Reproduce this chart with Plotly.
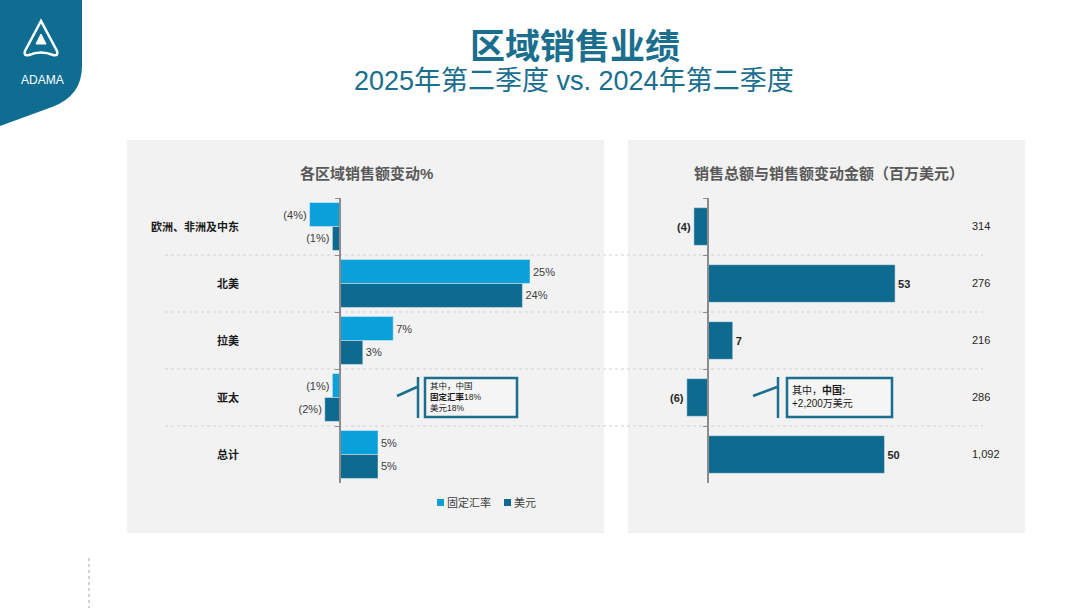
import plotly.graph_objects as go

# ---------------- data ----------------
categories = ["欧洲、非洲及中东", "北美", "拉美", "亚太", "总计"]
pct_constant_fx = [-4, 25, 7, -1, 5]      # 固定汇率
pct_usd = [-1, 24, 3, -2, 5]              # 美元
change_musd = [-4, 53, 7, -6, 50]         # 销售额变动金额（百万美元）
total_musd = [314, 276, 216, 286, 1092]   # 销售总额（百万美元）

series_names = ["固定汇率", "美元"]
title_main = "区域销售业绩"
title_sub = "2025年第二季度 vs. 2024年第二季度"
left_title = "各区域销售额变动%"
right_title = "销售总额与销售额变动金额（百万美元）"

# ---------------- styling ----------------
W, H = 1080, 608
LIGHT = "#0AA0DA"
DARK = "#0E6A8E"
TEAL = "#1A6E8E"
FONT = "Liberation Sans, Noto Sans CJK SC, sans-serif"
series_colors = [LIGHT, DARK]


def px(x):
    return x / W


def py(y):
    return 1 - y / H


def pct_text(v):
    return f"({abs(v)}%)" if v < 0 else f"{v}%"


def num_text(v):
    return f"({abs(v)})" if v < 0 else f"{v}"


fig = go.Figure()

# left chart: two bars per category
for vals, name, color, off in zip([pct_constant_fx, pct_usd], series_names,
                                  series_colors, [-0.42, 0.0]):
    fig.add_trace(go.Bar(
        y=categories, x=vals, orientation="h", name=name, showlegend=False,
        marker=dict(color=color), width=0.42, offset=off,
        text=[pct_text(v) for v in vals], textposition="outside",
        textfont=dict(size=11, color="#404040", family=FONT), constraintext="none",
        cliponaxis=False, xaxis="x", yaxis="y", hoverinfo="skip",
    ))

# right chart
fig.add_trace(go.Bar(
    y=categories, x=change_musd, orientation="h", showlegend=False,
    marker=dict(color=DARK), width=0.66, offset=-0.33,
    text=[num_text(v) for v in change_musd], textposition="outside",
    textfont=dict(size=11, color="#262626", family=FONT, weight="bold"),
    constraintext="none", cliponaxis=False, xaxis="x2", yaxis="y2",
    hoverinfo="skip",
))

ydom = [py(483), py(198)]
yaxis_common = dict(
    type="category", categoryorder="array", categoryarray=categories,
    autorange="reversed", domain=ydom, showticklabels=False,
    showline=True, linecolor="#8C8C8C", linewidth=1.5,
    ticks="outside", tickson="boundaries", ticklen=4, tickcolor="#8C8C8C",
    showgrid=False, zeroline=False, anchor="free",
)

# x axes: zero placed at x=340 px (left), x=708 px (right)
l_dom = (250, 600)
l_scale = 7.6
r_dom = (640, 990)
r_scale = 3.53

fig.update_layout(
    width=W, height=H, margin=dict(l=0, r=0, t=0, b=0),
    paper_bgcolor="white", plot_bgcolor="rgba(0,0,0,0)",
    font=dict(family=FONT, color="#404040"),
    barmode="overlay", showlegend=False,
    xaxis=dict(domain=[px(l_dom[0]), px(l_dom[1])],
               range=[(l_dom[0] - 340) / l_scale, (l_dom[1] - 340) / l_scale],
               visible=False, anchor="y"),
    xaxis2=dict(domain=[px(r_dom[0]), px(r_dom[1])],
                range=[(r_dom[0] - 708) / r_scale, (r_dom[1] - 708) / r_scale],
                visible=False, anchor="y2"),
    yaxis=dict(**yaxis_common, position=px(340)),
    yaxis2=dict(**yaxis_common, position=px(708)),
    hovermode=False,
)

shapes = []
# panel backgrounds
shapes.append(dict(type="rect", xref="paper", yref="paper", x0=px(127), x1=px(604),
                   y0=py(533), y1=py(140), fillcolor="#F2F2F2", line=dict(width=0),
                   layer="below"))
shapes.append(dict(type="rect", xref="paper", yref="paper", x0=px(628), x1=px(1025),
                   y0=py(533), y1=py(140), fillcolor="#F2F2F2", line=dict(width=0),
                   layer="below"))
# category separators
for i in range(len(categories) - 1):
    shapes.append(dict(type="line", xref="paper", yref="y", x0=px(165), x1=px(983),
                       y0=i + 0.5, y1=i + 0.5,
                       line=dict(color="#D0D0D0", width=1, dash="dot"), layer="below"))

# logo
logo_path = (f"M {px(0)} {py(0)} L {px(82)} {py(0)} L {px(82)} {py(66)} "
             f"Q {px(82)} {py(96)} {px(52)} {py(107)} L {px(0)} {py(126)} Z")
shapes.append(dict(type="path", xref="paper", yref="paper", path=logo_path,
                   fillcolor="#0F6D92", line=dict(width=0)))
a_outer = (f"M {px(41)} {py(21)} L {px(25)} {py(51)} Q {px(23)} {py(56)} {px(29)} {py(55)} "
           f"Q {px(41)} {py(50)} {px(53)} {py(55)} Q {px(59)} {py(56)} {px(57)} {py(51)} Z")
shapes.append(dict(type="path", xref="paper", yref="paper", path=a_outer,
                   fillcolor="rgba(0,0,0,0)", line=dict(color="white", width=2.5)))
a_inner = f"M {px(41)} {py(34)} L {px(36)} {py(44)} L {px(46)} {py(44)} Z"
shapes.append(dict(type="path", xref="paper", yref="paper", path=a_inner,
                   fillcolor="white", line=dict(color="white", width=1)))


# callouts
def callout(x_diag0, x_vert, box_x0, box_x1):
    out = []
    out.append(dict(type="line", xref="paper", yref="paper", x0=px(x_diag0), y0=py(396),
                    x1=px(x_vert - 1), y1=py(387), line=dict(color=TEAL, width=2.5)))
    out.append(dict(type="line", xref="paper", yref="paper", x0=px(x_vert), y0=py(377),
                    x1=px(x_vert), y1=py(418), line=dict(color=TEAL, width=2.5)))
    out.append(dict(type="rect", xref="paper", yref="paper", x0=px(box_x0), x1=px(box_x1),
                    y0=py(417), y1=py(378), line=dict(color=TEAL, width=2.5),
                    fillcolor="rgba(255,255,255,0.25)"))
    return out


shapes += callout(397, 418, 425, 517)
shapes += callout(753, 778, 787, 892)

# legend swatches
legend_x = [437, 504]
for lx, color in zip(legend_x, series_colors):
    shapes.append(dict(type="rect", xref="paper", yref="paper", x0=px(lx), x1=px(lx + 7),
                       y0=py(506), y1=py(499), fillcolor=color, line=dict(width=0)))

# dotted vertical line bottom-left
shapes.append(dict(type="line", xref="paper", yref="paper", x0=px(89), x1=px(89),
                   y0=py(558), y1=py(608), line=dict(color="#A6A6A6", width=1, dash="dot")))

fig.update_layout(shapes=shapes)

ann = []
ann.append(dict(text="ADAMA", x=px(42), y=py(71), xref="paper", yref="paper",
                xanchor="center", showarrow=False,
                font=dict(size=12, color="white", family=FONT)))
ann.append(dict(text=f"<b>{title_main}</b>", x=px(575), y=py(46), xref="paper", yref="paper",
                xanchor="center", yanchor="middle", height=39, showarrow=False,
                font=dict(size=35, color=TEAL, family=FONT)))
ann.append(dict(text=title_sub, x=px(574), y=py(81), xref="paper", yref="paper",
                xanchor="center", yanchor="middle", height=30, showarrow=False,
                font=dict(size=27, color=TEAL, family=FONT)))
ann.append(dict(text=f"<b>{left_title}</b>", x=px(366), y=py(163), xref="paper", yref="paper",
                xanchor="center", showarrow=False,
                font=dict(size=15, color="#595959", family=FONT)))
ann.append(dict(text=f"<b>{right_title}</b>", x=px(829), y=py(163), xref="paper", yref="paper",
                xanchor="center", showarrow=False,
                font=dict(size=15, color="#595959", family=FONT)))
for c in categories:
    ann.append(dict(text=f"<b>{c}</b>", x=px(241), y=c, xref="paper", yref="y",
                    xanchor="right", showarrow=False,
                    font=dict(size=11, color="#1A1A1A", family=FONT)))
for c, t in zip(categories, total_musd):
    ann.append(dict(text=f"{t:,}", x=px(970), y=c, xref="paper", yref="y2",
                    xanchor="left", showarrow=False,
                    font=dict(size=11, color="#262626", family=FONT)))
for lx, name in zip(legend_x, series_names):
    ann.append(dict(text=name, x=px(lx + 8), y=py(502.5), xref="paper", yref="paper",
                    xanchor="left", yanchor="middle", showarrow=False,
                    font=dict(size=11, color="#404040", family=FONT)))
ann.append(dict(text="其中，中国<br><b>固定汇率</b>18%<br>美元18%", x=px(428), y=py(397),
                xref="paper", yref="paper", xanchor="left", yanchor="middle", align="left",
                showarrow=False, font=dict(size=8.5, color="#1A1A1A", family=FONT)))
ann.append(dict(text="其中，<b>中国:</b><br>+2,200万美元", x=px(790), y=py(396),
                xref="paper", yref="paper", xanchor="left", yanchor="middle", align="left",
                showarrow=False, font=dict(size=10, color="#1A1A1A", family=FONT)))
fig.update_layout(annotations=ann)

fig.write_html("out.html", config={"displayModeBar": False},
               post_script="document.body.style.margin='0px';document.body.style.overflow='hidden';")
